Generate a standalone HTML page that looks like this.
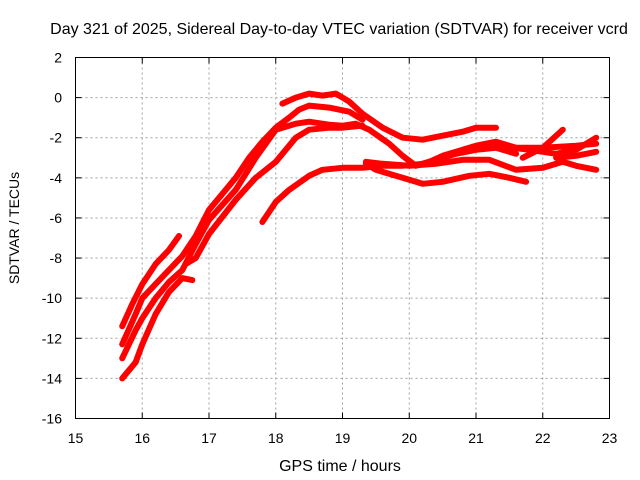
<!DOCTYPE html>
<html><head><meta charset="utf-8"><style>
body{margin:0;background:#fff;}
svg{display:block;font-family:"Liberation Sans",sans-serif;}
</style></head><body>
<svg id="chart" width="640" height="480" viewBox="0 0 640 480" xmlns="http://www.w3.org/2000/svg">
<rect width="640" height="480" fill="#fff"/>
<g id="grid"></g>
<g id="series"></g>
<rect x="75.5" y="57.5" width="534" height="361" fill="none" stroke="#000" stroke-width="1"/>
<g id="ticks"></g>
<text x="339" y="34" font-size="16" text-anchor="middle">Day 321 of 2025, Sidereal Day-to-day VTEC variation (SDTVAR) for receiver vcrd</text>
<text x="340" y="471" font-size="16" text-anchor="middle">GPS time / hours</text>
<text x="0" y="0" font-size="14" text-anchor="middle" transform="translate(19,228) rotate(-90)">SDTVAR / TECUs</text>
</svg>
<script>
const xTicks=[15,16,17,18,19,20,21,22,23];
const yTicks=[2,0,-2,-4,-6,-8,-10,-12,-14,-16];
const s1x=[18.1,18.3,18.5,18.7,18.9,19.1,19.3,19.6,19.9,20.2,20.5,20.8,21.0,21.3];
const s1y=[-0.3,0.0,0.2,0.1,0.2,-0.2,-0.8,-1.5,-2.0,-2.1,-1.9,-1.7,-1.5,-1.5];
const s2x=[15.7,15.9,16.0,16.2,16.4,16.6,16.8,17.0,17.2,17.4,17.6,17.8,18.0,18.2,18.35,18.5,18.8,19.1,19.3];
const s2y=[-12.3,-10.8,-10.0,-9.3,-8.6,-7.9,-6.9,-5.6,-4.8,-4.0,-3.0,-2.2,-1.5,-1.0,-0.6,-0.4,-0.5,-0.7,-1.1];
const s3x=[15.7,15.9,16.0,16.2,16.4,16.6,16.8,17.0,17.4,17.7,18.0,18.3,18.5,18.8,19.0,19.2,19.4,19.7,19.9,20.1,20.3,20.5,20.8,21.0,21.3,21.6,22.0,22.5,22.8];
const s3y=[-13,-11.6,-11,-10,-9.2,-8.6,-7.3,-6.1,-4.6,-3.0,-1.6,-1.3,-1.2,-1.35,-1.4,-1.3,-1.6,-2.3,-2.9,-3.4,-3.2,-2.9,-2.6,-2.4,-2.2,-2.5,-2.5,-2.4,-2.3];
const s4x=[15.7,15.85,16.0,16.2,16.4,16.55];
const s4y=[-11.4,-10.3,-9.3,-8.3,-7.6,-6.9];
const s5x=[15.7,15.9,16.0,16.2,16.4,16.6,16.75];
const s5y=[-14,-13.2,-12.3,-10.8,-9.7,-9.0,-9.1];
const s6x=[17.8,18.0,18.2,18.5,18.7,19.0,19.3,19.6,19.9,20.2,20.4,20.7,21.0,21.3,21.6];
const s6y=[-6.2,-5.2,-4.6,-3.9,-3.6,-3.5,-3.5,-3.4,-3.4,-3.3,-3.1,-2.8,-2.6,-2.5,-2.8];
const s7x=[19.35,19.5,19.9,20.2,20.5,20.9,21.2,21.5,21.75];
const s7y=[-3.3,-3.6,-4.0,-4.3,-4.2,-3.9,-3.8,-4.0,-4.2];
const s8x=[19.35,19.6,20.0,20.4,20.8,21.2,21.6,22.0,22.3,22.5,22.8];
const s8y=[-3.2,-3.3,-3.4,-3.3,-3.1,-3.1,-3.6,-3.5,-3.2,-3.4,-3.6];
const s9x=[21.7,22.0,22.3];
const s9y=[-3.0,-2.5,-1.6];
const s10x=[21.3,21.8,22.2,22.5,22.8];
const s10y=[-2.4,-2.6,-2.8,-2.6,-2.0];
const s11x=[22.2,22.5,22.8];
const s11y=[-3.0,-2.9,-2.7];
const s12x=[16.65,16.8,17.0,17.4,17.7,18.0,18.3,18.5,18.8,19.0,19.3];
const s12y=[-8.3,-8.0,-6.8,-5.1,-4.0,-3.2,-2.0,-1.6,-1.5,-1.5,-1.4];
const seriesX=[s1x,s2x,s3x,s4x,s5x,s6x,s7x,s8x,s9x,s10x,s11x,s12x];
const seriesY=[s1y,s2y,s3y,s4y,s5y,s6y,s7y,s8y,s9y,s10y,s11y,s12y];

const NS="http://www.w3.org/2000/svg";
const X0=75.5,X1=609.5,Y0=57.5,Y1=418.5;
function sx(v){return X0+(v-15)/8*(X1-X0);}
function sy(v){return Y0+(2-v)/18*(Y1-Y0);}
function mk(t,a){const e=document.createElementNS(NS,t);for(const k in a)e.setAttribute(k,a[k]);return e;}
const grid=document.getElementById('grid'),ticks=document.getElementById('ticks'),ser=document.getElementById('series');
xTicks.forEach(v=>{
  const x=sx(v);
  if(v>15&&v<23){const g=mk('line',{x1:x,x2:x,y1:Y0,y2:Y1,stroke:'#a0a0a0','stroke-dasharray':'2,3'});
  
  
  grid.appendChild(g);}
  const t1=mk('line',{x1:x,x2:x,y1:Y1,y2:Y1-6,stroke:'#000'});
  
  
  ticks.appendChild(t1);
  const t2=mk('line',{x1:x,x2:x,y1:Y0,y2:Y0+6,stroke:'#000'});
  
  
  ticks.appendChild(t2);
  const l=mk('text',{x:x,y:443,'font-size':14,'text-anchor':'middle'});l.textContent=v;
  
  
  ticks.appendChild(l);
});
yTicks.forEach(v=>{
  const y=sy(v);
  if(v<2&&v>-16){const g=mk('line',{x1:X0,x2:X1,y1:y,y2:y,stroke:'#a0a0a0','stroke-dasharray':'2,3'});
  
  
  grid.appendChild(g);}
  const t1=mk('line',{x1:X0,x2:X0+6,y1:y,y2:y,stroke:'#000'});
  
  
  ticks.appendChild(t1);
  const t2=mk('line',{x1:X1,x2:X1-6,y1:y,y2:y,stroke:'#000'});
  
  
  ticks.appendChild(t2);
  const l=mk('text',{x:62,y:y+5,'font-size':14,'text-anchor':'end'});l.textContent=v;
  
  
  ticks.appendChild(l);
});
seriesX.forEach((xs,i)=>{
  const ys=seriesY[i];
  const d=xs.map((v,j)=>(j?'L':'M')+sx(v).toFixed(1)+','+sy(ys[j]).toFixed(1)).join(' ');
  const p=mk('path',{d:d,fill:'none',stroke:'#ff0000','stroke-width':6,'stroke-linejoin':'round','stroke-linecap':'round'});
  
  
  ser.appendChild(p);
});
</script>
</body></html>
